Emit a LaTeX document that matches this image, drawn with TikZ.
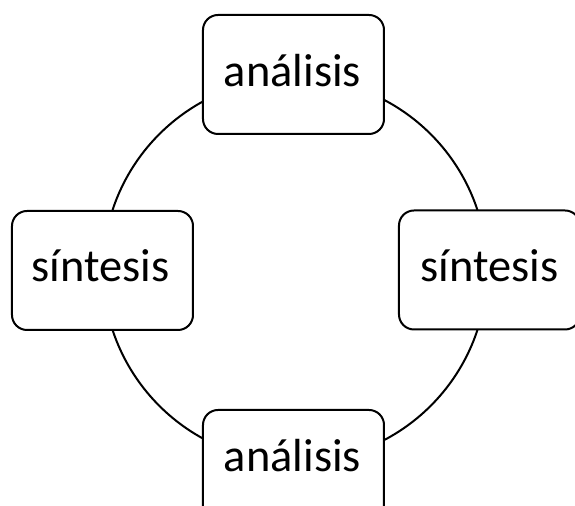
\documentclass[tikz,border=0pt]{standalone}
\usepackage{fontspec}
\setmainfont{Carlito}
\begin{document}
\begin{tikzpicture}[x=0.5pt,y=-0.5pt,
  box/.style={draw=black,line width=1pt,fill=white,rounded corners=7.5pt,minimum width=90.5pt,minimum height=59.5pt,inner sep=0pt},
  lbl/.style={anchor=base,inner sep=0pt,font=\fontsize{23.2}{28}\selectfont},
  ring/.style={draw=black,line width=1pt}]
\useasboundingbox (0,0) rectangle (575,506);
\begin{scope}
\clip (0,0) rectangle (575,506);
\draw[ring] (295,270) circle [radius=96pt];
\node[box] (top) at (293.5,74.5) {};
\node[box] (left) at (102.5,270.5) {};
\node[box] (right) at (489.5,270) {};
\node[box] (bottom) at (293.5,469.5) {};
\node[lbl] (ttop) at (292.5,87) {análisis};
\node[lbl] (tleft) at (100.5,282) {síntesis};
\node[lbl] (tright) at (489.5,282) {síntesis};
\node[lbl] (tbottom) at (292.5,472) {análisis};
\end{scope}
\end{tikzpicture}
\end{document}
